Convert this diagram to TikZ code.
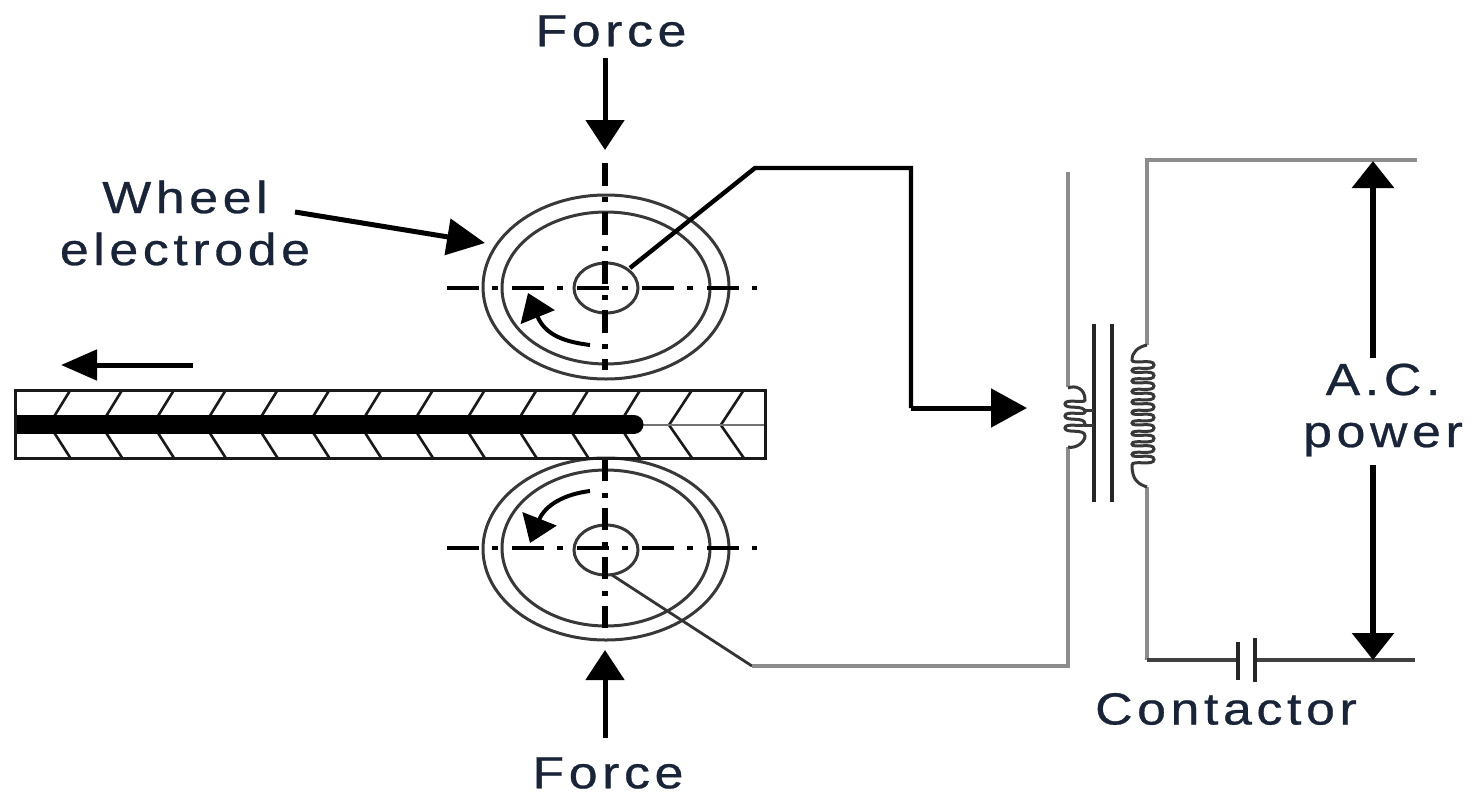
\documentclass[tikz,border=0pt]{standalone}
\usepackage{graphicx}
\usepackage{fontspec}
\setmainfont{Liberation Sans}
\usetikzlibrary{arrows.meta}
\definecolor{lbl}{HTML}{1A2438}
\definecolor{wire}{HTML}{8C8C8C}
\newcommand{\lab}[1]{\scalebox{1.15}[1]{\addfontfeature{LetterSpace=9,FakeBold=0.6}#1}}
\tikzset{
  x=1pt,y=-1pt,
  every node/.style={inner sep=0pt,outer sep=0pt},
  txt/.style={text=lbl,font=\fontsize{45}{52}\selectfont,align=center},
  bigarrow/.style={line width=5pt,-{Triangle[length=30pt,width=38pt]}},
  slant/.style={line width=5pt,-{Triangle[length=38pt,width=36pt]}},
  rim/.style={draw=black!78,line width=3pt},
  clh/.style={line width=4.6pt,black,dash pattern=on 32pt off 13pt on 6pt off 14pt},
  hatch/.style={line width=2.6pt,black!90},
  thin wire/.style={line width=3.2pt,wire},
  lead/.style={line width=4.4pt,black},
  core/.style={line width=3.6pt,black!85},
  coil/.style={line width=3pt,black!78},
  turn/.style={line width=4pt,-{Triangle[length=26pt,width=36pt]}},
}
\begin{document}
\begin{tikzpicture}
\useasboundingbox (0,0) rectangle (1479,795);
% wheels
\draw[rim] (606,287) ellipse [x radius=123,y radius=92];
\draw[rim] (606,288) ellipse [x radius=104,y radius=76];
\draw[rim] (606,288) ellipse [x radius=32,y radius=25];
\draw[rim] (606,549) ellipse [x radius=123,y radius=91];
\draw[rim] (606,548) ellipse [x radius=104,y radius=78];
\draw[rim] (606,550) ellipse [x radius=32,y radius=25];
% centre lines
\draw[clh] (447,288) -- (757,288);
\draw[clh] (447,548) -- (757,548);
\draw[line width=6pt,black,dash pattern=on 23pt off 11pt on 5pt off 10pt] (605,163) -- (605,370);
\draw[line width=6pt,black,dash pattern=on 22pt off 12pt on 5pt off 10pt] (605,459) -- (605,630);
% sheets
\foreach \i in {0,...,11}{
  \pgfmathsetmacro{\xx}{70.4+51.8*\i}
  \draw[hatch] (\xx,390) -- (\xx-16,416);
  \draw[hatch] (\xx,458) -- (\xx-16,433);
}
\foreach \i in {12,13}{
  \pgfmathsetmacro{\xx}{70.4+51.8*\i}
  \draw[hatch] (\xx,390) -- (\xx-23,425) -- (\xx,458);
}
\draw[line width=2.4pt,black!55] (640,425) -- (765,425);
\draw[line width=19pt,line cap=round,black] (26,424.5) -- (634,424.5);
\fill[black] (15,415) rectangle (30,434);
\draw[line width=3pt,black!90] (15,390) rectangle (765,458);
% arrows
\coordinate (ft0) at (605,58); \coordinate (ft1) at (605,150);
\draw[bigarrow] (ft0) -- (ft1);
\coordinate (fb0) at (605,738); \coordinate (fb1) at (605,650);
\draw[bigarrow] (fb0) -- (fb1);
\coordinate (we0) at (295,212); \coordinate (we1) at (485,243);
\draw[slant] (we0) -- (we1);
\coordinate (mv0) at (193,365); \coordinate (mv1) at (61,365);
\draw[line width=5pt,-{Triangle[length=36pt,width=30pt]}] (mv0) -- (mv1);
\draw[turn] (590,345) .. controls (565,342) and (545,335) .. (528,293);
\draw[turn] (590,491) .. controls (565,494) and (545,505) .. (530,543);
% leads
\coordinate (h1) at (630,268);
\coordinate (h2) at (612,575);
\draw[lead] (h1) -- (755,168) -- (911,168) -- (911,408);
\draw[line width=5pt,-{Triangle[length=36pt,width=38pt]}] (911,408) -- (1027,408);
\draw[line width=2.8pt,black!80] (h2) -- (752,666);
\draw[thin wire] (752,666) -- (1068,666) -- (1068,447);
\draw[thin wire] (1068,172) -- (1068,387);
% transformer
\draw[core] (1094,324) -- (1094,502);
\draw[core] (1112,324) -- (1112,502);
\draw[coil] (1068,388) .. controls (1075,385) and (1085,388) .. (1085,400)
  \foreach \k in {0,1,2}{ .. controls (1085,{404+\k*12}) and (1065,{398+\k*12}) .. (1065,{404+\k*12})
     .. controls (1065,{410+\k*12}) and (1085,{404+\k*12}) .. (1085,{412+\k*12}) }
  .. controls (1085,442) and (1076,449) .. (1068,447);
\draw[coil] (1084,410) -- (1094,410) (1084,425) -- (1094,425);
\draw[thin wire] (1417,160) -- (1147,160) -- (1147,345);
\draw[thin wire] (1147,487) -- (1147,660);
\draw[coil] (1147,345) .. controls (1138,347) and (1132,352) .. (1132,360)
  \foreach \k in {0,...,9}{ .. controls (1132,{365+\k*10.5}) and (1154,{358+\k*10.5}) .. (1154,{365+\k*10.5})
     .. controls (1154,{372+\k*10.5}) and (1132,{365+\k*10.5}) .. (1132,{370.5+\k*10.5}) }
  .. controls (1132,480) and (1138,484) .. (1147,487);
% contactor
\draw[line width=3.2pt,black!75] (1147,660) -- (1238,660) (1255,660) -- (1415,660);
\draw[core] (1238,642) -- (1238,680);
\draw[core] (1255,638) -- (1255,682);
% dimension arrow
\coordinate (ac0) at (1373,358); \coordinate (ac1) at (1373,161);
\draw[line width=6pt,-{Triangle[length=27pt,width=41pt]}] (ac0) -- (ac1);
\coordinate (ac2) at (1373,465); \coordinate (ac3) at (1373,660);
\draw[line width=6pt,-{Triangle[length=27pt,width=41pt]}] (ac2) -- (ac3);
% labels
\node[txt] (l1) at (611,31) {\lab{Force}};
\node[txt] (l2) at (608,773) {\lab{Force}};
\node[txt] (l3) at (185,223) {\lab{Wheel}\\\lab{electrode}};
\node[txt] (l4) at (1383,410) {\lab{A.C.}\\\lab{power}};
\node[txt] (l5) at (1226,709) {\lab{Contactor}};
\end{tikzpicture}
\end{document}
